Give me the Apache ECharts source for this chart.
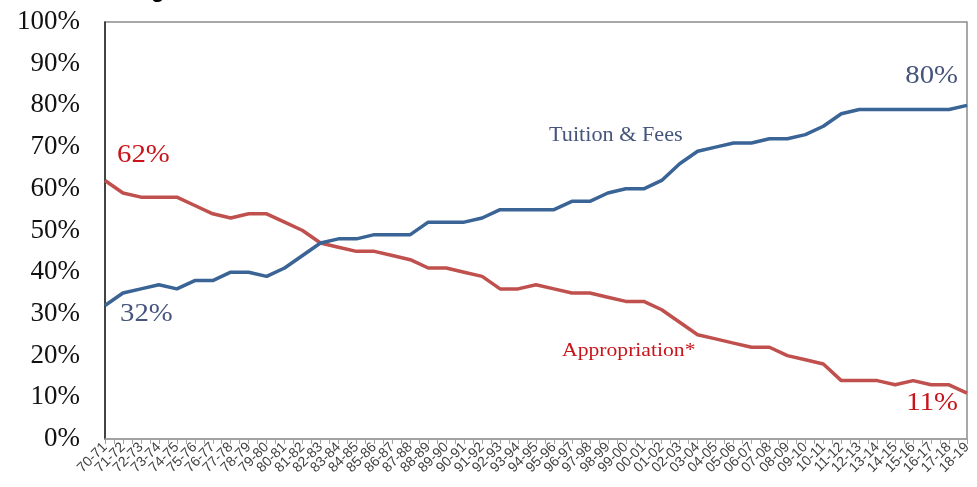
<!DOCTYPE html>
<html>
<head>
<meta charset="utf-8">
<script src="https://cdn.jsdelivr.net/npm/echarts@6/dist/echarts.min.js"></script>
<style>
html,body{margin:0;padding:0;background:#fff;}
#c{width:977px;height:487px;}
</style>
</head>
<body>
<div id="c"></div>
<script>
const categories = ['70-71','71-72','72-73','73-74','74-75','75-76','76-77','77-78','78-79','79-80',
'80-81','81-82','82-83','83-84','84-85','85-86','86-87','87-88','88-89','89-90',
'90-91','91-92','92-93','93-94','94-95','95-96','96-97','97-98','98-99','99-00',
'00-01','01-02','02-03','03-04','04-05','05-06','06-07','07-08','08-09','09-10',
'10-11','11-12','12-13','13-14','14-15','15-16','16-17','17-18','18-19'];
const tuitionFees = [32,35,36,37,36,38,38,40,40,39,
41,44,47,48,48,49,49,49,52,52,
52,53,55,55,55,55,57,57,59,60,
60,62,66,69,70,71,71,72,72,73,
75,78,79,79,79,79,79,79,80];
const appropriation = [62,59,58,58,58,56,54,53,54,54,
52,50,47,46,45,45,44,43,41,41,
40,39,36,36,37,36,35,35,34,33,
33,31,28,25,24,23,22,22,20,19,
18,14,14,14,13,14,13,13,11];
const yTicks = [0,10,20,30,40,50,60,70,80,90,100];

const halfTicks = [];
for (let i = 0; i < categories.length * 2 - 1; i++) halfTicks.push('');

const serif = '"Liberation Serif","Times New Roman",serif';
const blueLine = '#3a6396', redLine = '#c0504d';
const blueText = '#46557c', redText = '#c8151b';

const chart = echarts.init(document.getElementById('c'));
chart.setOption({
  animation: false,
  backgroundColor: '#fff',
  grid: {left: 105, right: 10, top: 22, bottom: 48, show: true, borderColor: '#8c8c8c', borderWidth: 1.5, containLabel: false},
  xAxis: [{
    type: 'category', data: categories, boundaryGap: false,
    axisLine: {lineStyle: {color: '#a0a0a0', width: 1.5}},
    axisTick: {show: false},
    axisLabel: {interval: 0, rotate: 45, fontSize: 14, color: '#404040', fontFamily: '"Liberation Sans",Arial,sans-serif', margin: 6},
    splitLine: {show: false}
  }, {
    type: 'category', data: halfTicks, boundaryGap: false, position: 'bottom',
    axisLine: {show: false},
    axisTick: {show: true, interval: 0, length: 5, lineStyle: {color: '#a0a0a0', width: 1}},
    axisLabel: {show: false},
    splitLine: {show: false}
  }],
  yAxis: {
    type: 'value', min: yTicks[0], max: yTicks[yTicks.length-1], interval: 10,
    axisLine: {show: true, lineStyle: {color: '#222', width: 1.5}},
    axisTick: {show: false},
    splitLine: {show: false},
    axisLabel: {formatter: '{value}%', fontSize: 27, color: '#111', fontFamily: serif, margin: 25}
  },
  series: [{
    name: 'Tuition & Fees', type: 'line', data: tuitionFees, xAxisIndex: 0,
    showSymbol: false, symbol: 'none',
    lineStyle: {color: blueLine, width: 3.5}, z: 3
  }, {
    name: 'Appropriation*', type: 'line', data: appropriation, xAxisIndex: 0,
    showSymbol: false, symbol: 'none',
    lineStyle: {color: redLine, width: 3.5}, z: 2
  }]
});

const last = categories.length - 1;
const p = (i, v) => chart.convertToPixel({xAxisIndex: 0, yAxisIndex: 0}, [i, v]);
const a0 = p(0, appropriation[0]);
const t0 = p(0, tuitionFees[0]);
const aN = p(last, appropriation[last]);
const tN = p(last, tuitionFees[last]);
const txt = (x, y, s, color, size, align, sx) => ({
  type: 'text', x: x, y: y, scaleX: sx,
  style: {text: s, fill: color, font: size + 'px ' + serif, textAlign: align, textVerticalAlign: 'middle'}
});
chart.setOption({
  graphic: [
    {type: 'text', left: 14, top: -20, style: {text: 'Share of Budget', fill: '#000', font: 'bold 22px "Liberation Sans",Arial,sans-serif'}},
    txt(a0[0] + 12, a0[1] - 25, appropriation[0] + '%', redText, 25, 'left', 1.15),
    txt(t0[0] + 15, t0[1] + 9, tuitionFees[0] + '%', blueText, 25, 'left', 1.15),
    txt(tN[0] - 9, tN[1] - 29, tuitionFees[last] + '%', blueText, 25, 'right', 1.15),
    txt(aN[0] - 9, aN[1] + 10, appropriation[last] + '%', redText, 25, 'right', 1.15),
    txt(549, 136, 'Tuition & Fees', blueText, 20, 'left', 1.11),
    txt(562, 351, 'Appropriation*', redText, 19.5, 'left', 1.11)
  ]
});
</script>
</body>
</html>
